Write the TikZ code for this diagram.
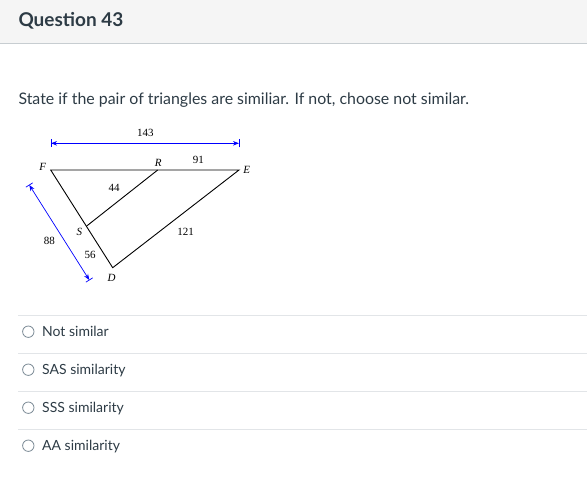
\documentclass[tikz,border=0pt]{standalone}
\usepackage{fontspec}
\setmainfont{Lato}
\newfontfamily\tnr{Liberation Serif}
\usetikzlibrary{arrows.meta,calc}
\definecolor{txt}{HTML}{2D3B45}
\definecolor{headbg}{HTML}{F5F5F5}
\definecolor{headline}{HTML}{C7CDD1}
\definecolor{optline}{HTML}{E2E5E8}
\definecolor{radio}{HTML}{7B8A95}
\definecolor{dimblue}{RGB}{0,0,255}
\tikzset{
  edge/.style={draw=black, line width=0.9pt},
  dimline/.style={draw=dimblue, line width=0.7pt, {Stealth[length=6pt,width=4.5pt]}-{Stealth[length=6pt,width=4.5pt]}},
  dimtick/.style={draw=dimblue, line width=0.7pt},
  vlabel/.style={inner sep=0, font=\tnr\itshape\fontsize{11}{12}\selectfont},
  numlabel/.style={inner sep=0, font=\tnr\fontsize{11}{12}\selectfont},
  opttext/.style={anchor=base west, inner sep=0, text=txt, font=\fontsize{14}{16}\selectfont},
  radiobtn/.style={draw=radio, line width=0.8pt, circle, minimum size=11.4pt, inner sep=0},
  sep/.style={draw=optline, line width=1pt}
}
\begin{document}
\begin{tikzpicture}[x=1pt,y=-1pt]
\useasboundingbox (0,0) rectangle (587,482);
% header
\fill[headbg] (0,0) rectangle (587,43.5);
\draw[headline, line width=1pt] (0,43.5) -- (587,43.5);
\node[anchor=base west, inner sep=0, text=txt, font=\fontsize{19}{21}\selectfont\bfseries] (title) at (18.3,26.7) {Question 43};
\node[anchor=base west, inner sep=0, text=txt, font=\fontsize{15.9}{18}\selectfont] (question) at (18.3,104) {State if the pair of triangles are similiar. If not, choose not similar.};

% triangle vertices
\coordinate (F) at (50.7,170);
\coordinate (E) at (239,170);
\coordinate (R) at (157.7,170);
\coordinate (D) at (112.7,267.7);
\coordinate (S) at (86.7,226);
\draw[edge] (F) -- (E) -- (D) -- cycle;
\draw[edge] (R) -- (S);

% vertex labels
\node[vlabel] (lF) at (42.7,166.7) {F};
\node[vlabel] (lR) at (158.3,162.7) {R};
\node[vlabel] (lE) at (246.7,170) {E};
\node[vlabel] (lS) at (79.3,231.7) {S};
\node[vlabel] (lD) at (111.7,277.7) {D};

% numbers
\node[numlabel] (n143) at (145.3,133.3) {143};
\node[numlabel] (n91) at (198.3,160) {91};
\node[numlabel] (n44) at (114,188.3) {44};
\node[numlabel] (n121) at (185.7,232.3) {121};
\node[numlabel] (n88) at (49.3,240.7) {88};
\node[numlabel] (n56) at (90,255) {56};

% dimension lines
\coordinate (h1) at (51,143.3);
\coordinate (h2) at (239,143.3);
\draw[dimline] (h1) -- (h2);
\draw[dimtick] ($(h1)!4pt!90:(h2)$) -- ($(h1)!4pt!-90:(h2)$);
\draw[dimtick] ($(h2)!4pt!90:(h1)$) -- ($(h2)!4pt!-90:(h1)$);
\coordinate (s1) at (29.3,185);
\coordinate (s2) at (89.3,280);
\draw[dimline] (s1) -- (s2);
\draw[dimtick] ($(s1)!4pt!90:(s2)$) -- ($(s1)!4pt!-90:(s2)$);
\draw[dimtick] ($(s2)!4pt!90:(s1)$) -- ($(s2)!4pt!-90:(s1)$);

% options
\draw[sep] (18,315) -- (587,315);
\draw[sep] (18,353) -- (587,353);
\draw[sep] (18,391) -- (587,391);
\draw[sep] (18,429) -- (587,429);
\node[radiobtn] (r1) at (28.3,331.7) {};
\node[radiobtn] (r2) at (28.3,369.7) {};
\node[radiobtn] (r3) at (28.3,407.7) {};
\node[radiobtn] (r4) at (28.3,445.7) {};
\node[opttext] (o1) at (42,336.7) {Not similar};
\node[opttext] (o2) at (42,374.7) {SAS similarity};
\node[opttext] (o3) at (42,412.7) {SSS similarity};
\node[opttext] (o4) at (42,450.7) {AA similarity};
\end{tikzpicture}
\end{document}
